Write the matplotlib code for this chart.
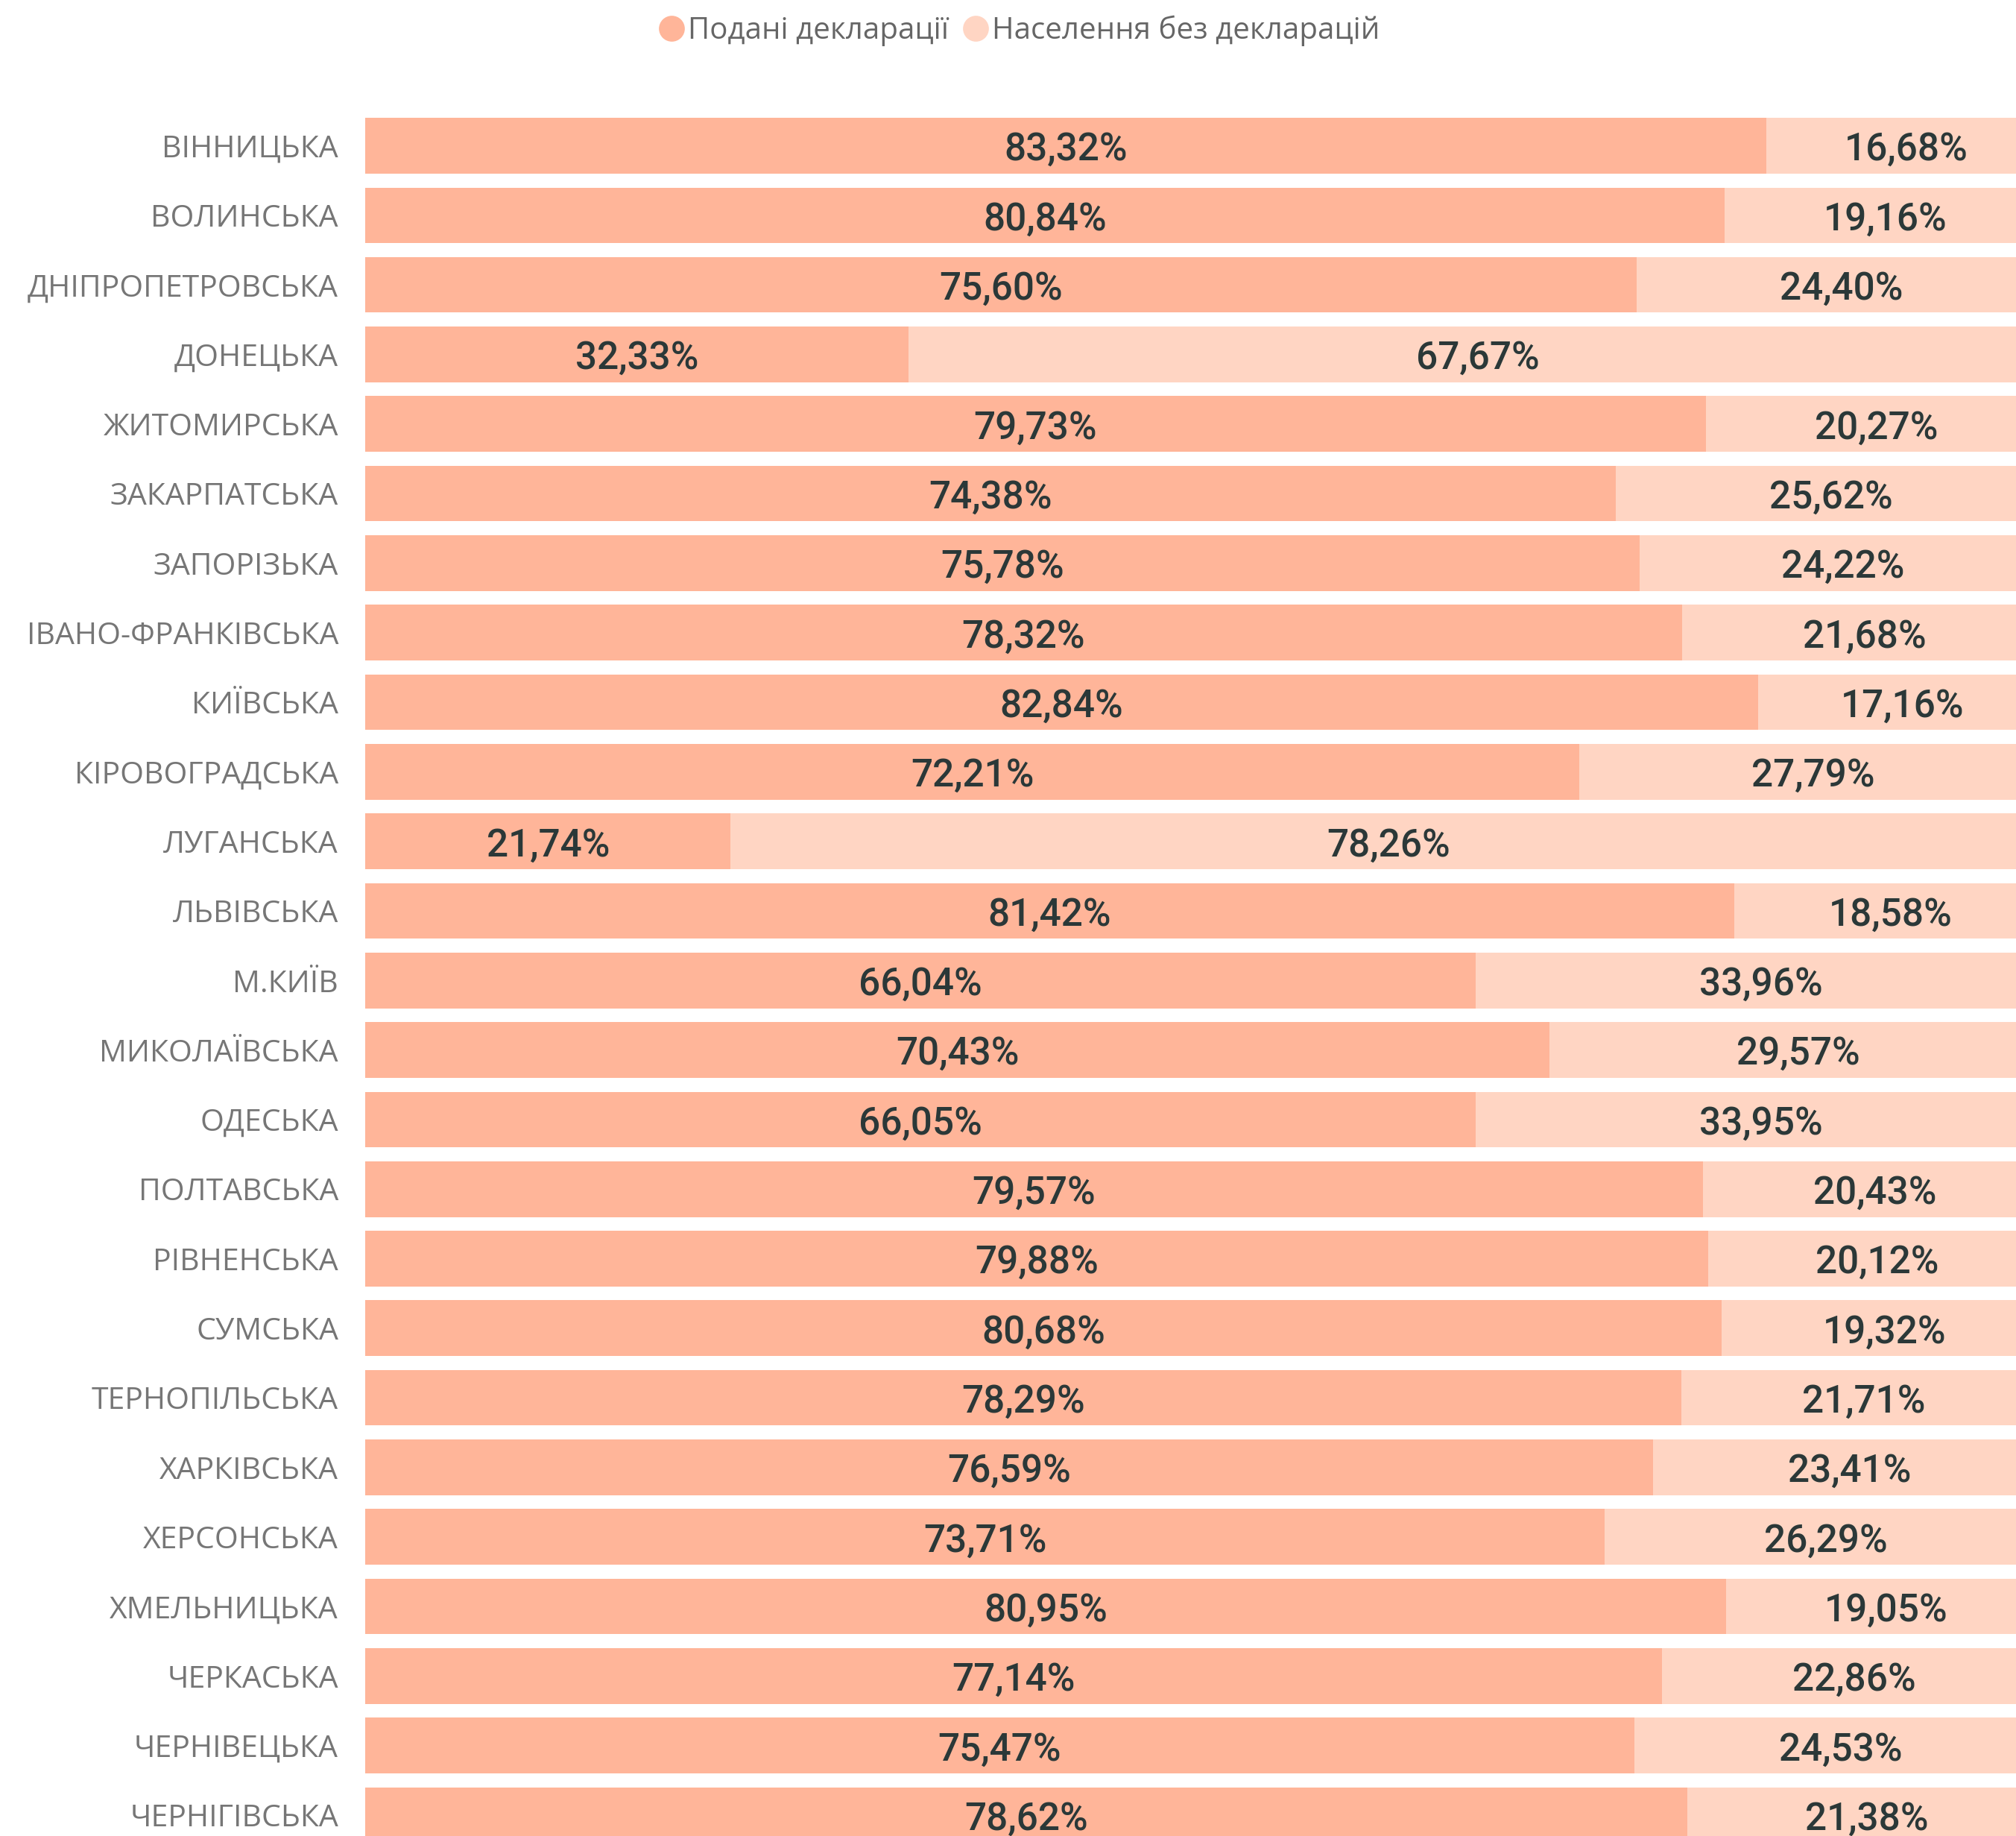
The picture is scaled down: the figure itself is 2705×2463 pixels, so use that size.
import matplotlib.pyplot as plt
from matplotlib.lines import Line2D
import numpy as np

# region names, top to bottom
regions = [
    'ВІННИЦЬКА', 'ВОЛИНСЬКА', 'ДНІПРОПЕТРОВСЬКА', 'ДОНЕЦЬКА', 'ЖИТОМИРСЬКА',
    'ЗАКАРПАТСЬКА', 'ЗАПОРІЗЬКА', 'ІВАНО-ФРАНКІВСЬКА', 'КИЇВСЬКА', 'КІРОВОГРАДСЬКА',
    'ЛУГАНСЬКА', 'ЛЬВІВСЬКА', 'М.КИЇВ', 'МИКОЛАЇВСЬКА', 'ОДЕСЬКА',
    'ПОЛТАВСЬКА', 'РІВНЕНСЬКА', 'СУМСЬКА', 'ТЕРНОПІЛЬСЬКА', 'ХАРКІВСЬКА',
    'ХЕРСОНСЬКА', 'ХМЕЛЬНИЦЬКА', 'ЧЕРКАСЬКА', 'ЧЕРНІВЕЦЬКА', 'ЧЕРНІГІВСЬКА',
]
# share of population with submitted declarations, %
declared = [
    83.32, 80.84, 75.60, 32.33, 79.73,
    74.38, 75.78, 78.32, 82.84, 72.21,
    21.74, 81.42, 66.04, 70.43, 66.05,
    79.57, 79.88, 80.68, 78.29, 76.59,
    73.71, 80.95, 77.14, 75.47, 78.62,
]
# share of population without declarations, %
undeclared = [
    16.68, 19.16, 24.40, 67.67, 20.27,
    25.62, 24.22, 21.68, 17.16, 27.79,
    78.26, 18.58, 33.96, 29.57, 33.95,
    20.43, 20.12, 19.32, 21.71, 23.41,
    26.29, 19.05, 22.86, 24.53, 21.38,
]
series_names = ['Подані декларації', 'Населення без декларацій']

COL_DECL = '#FFB599'
COL_REST = '#FFD5C3'
LABEL_GRAY = '#767676'
VALUE_DARK = '#2B3838'

W, H, DPI = 2705, 2463, 100
fig = plt.figure(figsize=(W / DPI, H / DPI), dpi=DPI)
fig.patch.set_facecolor('white')

# axes reaches a bit past the right edge of the picture, like the original
ax = fig.add_axes([490 / W, 0, 2256 / W, 2323 / H])

y = np.arange(len(regions))
decl = np.array(declared)
rest = np.array(undeclared)

ax.barh(y, decl, height=0.80, color=COL_DECL, linewidth=0)
ax.barh(y, rest, left=decl, height=0.80, color=COL_REST, linewidth=0)

def fmt(v):
    return f'{v:.2f}%'.replace('.', ',')

vfont = dict(family=['Roboto', 'DejaVu Sans'], fontsize=37, fontweight='medium',
             color=VALUE_DARK, ha='center', va='center')
for i in range(len(regions)):
    ax.text(decl[i] / 2, i + 0.06, fmt(decl[i]), **vfont)
    ax.text(decl[i] + rest[i] / 2, i + 0.06, fmt(rest[i]), **vfont)

ax.set_xlim(0, 100)
ax.set_ylim(24.30, -0.595)
ax.set_yticks(y)
ax.set_yticklabels(regions, family=['Open Sans', 'DejaVu Sans'], fontsize=29.5,
                   color=LABEL_GRAY)
ax.tick_params(axis='y', length=0, pad=26)
ax.set_xticks([])
for s in ax.spines.values():
    s.set_visible(False)

handles = [
    Line2D([], [], marker='o', ls='', ms=25, color=COL_DECL, markeredgewidth=0),
    Line2D([], [], marker='o', ls='', ms=25, color=COL_REST, markeredgewidth=0),
]
fig.legend(handles, series_names, loc='center', bbox_to_anchor=(0.505, 1 - 41 / H),
           ncol=2, frameon=False, handletextpad=0.05, columnspacing=0.4,
           handlelength=1.0, prop=dict(family=['Open Sans', 'DejaVu Sans'], size=29),
           labelcolor='#666666')

fig.savefig('out.png', dpi=DPI, facecolor='white')
